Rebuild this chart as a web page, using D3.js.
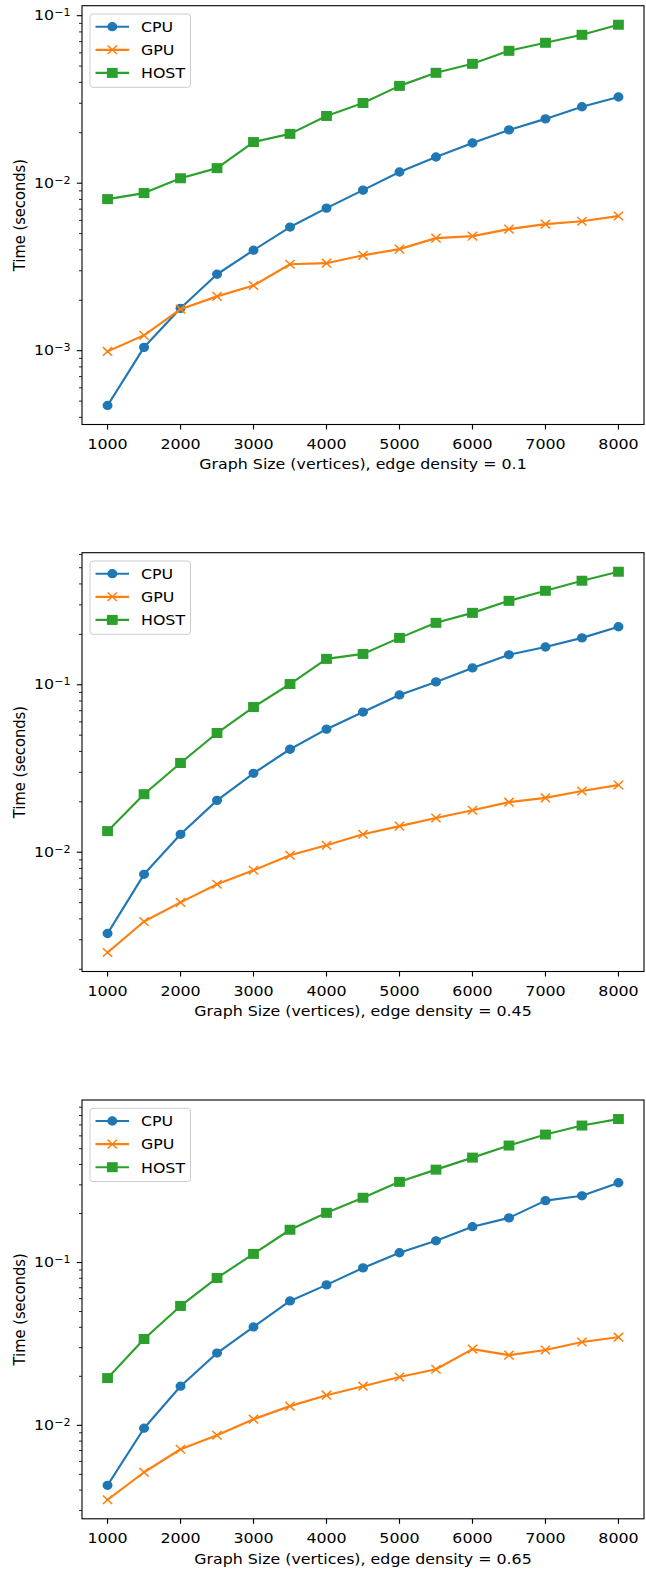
<!DOCTYPE html>
<html>
<head>
<meta charset="utf-8">
<script src="https://cdn.jsdelivr.net/npm/d3@7/dist/d3.min.js"></script>
<style>
  html, body { margin: 0; padding: 0; background: #ffffff; }
  svg { display: block; }
  text { font-family: "DejaVu Sans", sans-serif; fill: #000; }
</style>
</head>
<body>
<svg id="chart" width="646" height="1573"></svg>
<script>
// Graph sizes (number of vertices) shared by every panel
const graphSizes = [1000, 1500, 2000, 2500, 3000, 3500, 4000, 4500, 5000, 5500, 6000, 6500, 7000, 7500, 8000];

// Edge density shown under each panel
const edgeDensities = ["0.1", "0.45", "0.65"];

// Series names
const seriesNames = ["CPU", "GPU", "HOST"];

// Timings (seconds), edge density = 0.1
const cpuTimes01 = [0.000471, 0.001047, 0.00179, 0.00286, 0.00398, 0.00547, 0.0071, 0.00909, 0.01166, 0.01433, 0.01738, 0.0208, 0.0242, 0.0286, 0.0327];
const gpuTimes01 = [0.00099, 0.001235, 0.00177, 0.00211, 0.00245, 0.00328, 0.00333, 0.00371, 0.00404, 0.0047, 0.00483, 0.00532, 0.0057, 0.00593, 0.00637];
const hostTimes01 = [0.00803, 0.00873, 0.0107, 0.0123, 0.0176, 0.0197, 0.0252, 0.0301, 0.0381, 0.0456, 0.0516, 0.0617, 0.0689, 0.0769, 0.0883];

// Timings (seconds), edge density = 0.45
const cpuTimes045 = [0.00327, 0.00738, 0.01279, 0.0204, 0.0296, 0.0412, 0.0543, 0.0687, 0.0869, 0.104, 0.126, 0.151, 0.168, 0.1905, 0.222];
const gpuTimes045 = [0.00252, 0.00386, 0.00502, 0.00644, 0.0078, 0.00959, 0.01101, 0.0128, 0.01432, 0.016, 0.0178, 0.0199, 0.0211, 0.0232, 0.0252];
const hostTimes045 = [0.01336, 0.0222, 0.0341, 0.0515, 0.0736, 0.101, 0.1427, 0.1528, 0.1905, 0.2343, 0.2687, 0.317, 0.364, 0.418, 0.473];

// Timings (seconds), edge density = 0.65
const cpuTimes065 = [0.00428, 0.0096, 0.0174, 0.0278, 0.0402, 0.0581, 0.0729, 0.0927, 0.1148, 0.136, 0.166, 0.188, 0.24, 0.257, 0.309];
const gpuTimes065 = [0.00349, 0.00515, 0.00713, 0.00869, 0.01091, 0.01312, 0.01532, 0.0174, 0.0198, 0.0221, 0.0294, 0.027, 0.029, 0.0325, 0.0348];
const hostTimes065 = [0.0195, 0.0339, 0.0541, 0.0804, 0.113, 0.159, 0.202, 0.25, 0.313, 0.372, 0.441, 0.523, 0.611, 0.694, 0.761];

const panelData = [
  [cpuTimes01, gpuTimes01, hostTimes01],
  [cpuTimes045, gpuTimes045, hostTimes045],
  [cpuTimes065, gpuTimes065, hostTimes065]
];

const colors = ["#1f77b4", "#ff7f0e", "#2ca02c"];
const markers = ["circle", "cross", "square"];

const FONT = 14.7;
const SX = 1.077;            // horizontal stretch of the figure
const panelTops = [5.7, 552.7, 1100];
const panelHeight = 418.8;
const axLeft = 82, axRight = 644;
const lineW = 2.15;

const svg = d3.select("#chart");

// text helper: glyphs stretched horizontally by SX around the anchor point
function label(g, px, py, str, anchor, extra) {
  return g.append("text")
    .attr("transform", `translate(${px},${py}) scale(${SX},1)` + (extra || ""))
    .attr("text-anchor", anchor)
    .attr("font-size", FONT)
    .text(str);
}

function drawMarker(g, kind, x, y, color) {
  const m = g.append("g").attr("transform", `translate(${x},${y}) scale(${SX},1)`);
  if (kind === "circle") {
    m.append("circle").attr("r", 4.0)
      .attr("fill", color).attr("stroke", color).attr("stroke-width", 1.3);
  } else if (kind === "square") {
    const s = 8.6;
    m.append("rect").attr("x", -s / 2).attr("y", -s / 2)
      .attr("width", s).attr("height", s)
      .attr("fill", color).attr("stroke", color).attr("stroke-width", 1.4);
  } else {
    const h = 4.3;
    m.append("path")
      .attr("d", `M${-h},${-h}L${h},${h}M${-h},${h}L${h},${-h}`)
      .attr("stroke", color).attr("stroke-width", 1.45).attr("fill", "none");
  }
}

// x domain with 5% margins on each side
const xExt = d3.extent(graphSizes);
const xPad = (xExt[1] - xExt[0]) * 0.05;
const x = d3.scaleLinear().domain([xExt[0] - xPad, xExt[1] + xPad]).range([axLeft, axRight]);

panelData.forEach((series, pi) => {
  const top = panelTops[pi];
  const bottom = top + panelHeight;
  const g = svg.append("g");

  // log y domain padded by 5% in log space
  const all = series.flat();
  const lmin = Math.log10(d3.min(all)), lmax = Math.log10(d3.max(all));
  const lp = (lmax - lmin) * 0.05;
  const y = d3.scaleLog()
    .domain([Math.pow(10, lmin - lp), Math.pow(10, lmax + lp)])
    .range([bottom, top]);

  // series lines + markers
  series.forEach((vals, si) => {
    const pts = graphSizes.map((s, i) => [x(s), y(vals[i])]);
    g.append("path")
      .attr("d", d3.line()(pts))
      .attr("fill", "none")
      .attr("stroke", colors[si])
      .attr("stroke-width", lineW)
      .attr("stroke-linejoin", "round")
      .attr("stroke-linecap", "square");
    const mg = g.append("g");
    pts.forEach(p => drawMarker(mg, markers[si], p[0], p[1], colors[si]));
  });

  // spines
  g.append("rect")
    .attr("x", axLeft).attr("y", top)
    .attr("width", axRight - axLeft).attr("height", panelHeight)
    .attr("fill", "none").attr("stroke", "#000").attr("stroke-width", 1.1);

  // x ticks
  const xTicks = d3.range(1000, 8001, 1000);
  xTicks.forEach(t => {
    const px = x(t);
    g.append("line").attr("x1", px).attr("x2", px).attr("y1", bottom).attr("y2", bottom + 5)
      .attr("stroke", "#000").attr("stroke-width", 1.15);
    label(g, px, bottom + 24, String(t), "middle");
  });
  label(g, (axLeft + axRight) / 2, bottom + 44.7,
    `Graph Size (vertices), edge density = ${edgeDensities[pi]}`, "middle");

  // y ticks: decades (major) and 2..9 multiples (minor)
  const [d0, d1] = y.domain();
  for (let k = Math.floor(Math.log10(d0)); k <= Math.ceil(Math.log10(d1)); k++) {
    for (let m = 1; m <= 9; m++) {
      const v = m * Math.pow(10, k);
      if (v < d0 || v > d1) continue;
      const py = y(v);
      const major = m === 1;
      g.append("line")
        .attr("x1", axLeft - (major ? 5.2 : 3)).attr("x2", axLeft)
        .attr("y1", py).attr("y2", py)
        .attr("stroke", "#000").attr("stroke-width", major ? 1.1 : 0.85);
      if (major) {
        const t = label(g, axLeft - 11.5, py + 4.6, null, "end");
        t.append("tspan").text("10");
        t.append("tspan").attr("font-size", FONT * 0.7).attr("dy", -4.3)
          .text(k < 0 ? "\u2212" + Math.abs(k) : String(k));
      }
    }
  }
  label(g, 25, (top + bottom) / 2, "Time (seconds)", "middle", " rotate(-90)");

  // legend
  const lg = g.append("g").attr("transform", `translate(${axLeft + 8},${top + 8.3})`);
  lg.append("rect").attr("width", 100.5).attr("height", 73.3).attr("rx", 3).attr("ry", 3)
    .attr("fill", "#ffffff").attr("fill-opacity", 0.8)
    .attr("stroke", "#cccccc").attr("stroke-width", 1);
  seriesNames.forEach((name, si) => {
    const ry = 12.7 + si * 23.1;
    lg.append("line").attr("x1", 5.5).attr("x2", 39).attr("y1", ry).attr("y2", ry)
      .attr("stroke", colors[si]).attr("stroke-width", lineW);
    drawMarker(lg, markers[si], 22.3, ry, colors[si]);
    label(lg, 51, ry + 5.3, name, "start");
  });
});
</script>
</body>
</html>
